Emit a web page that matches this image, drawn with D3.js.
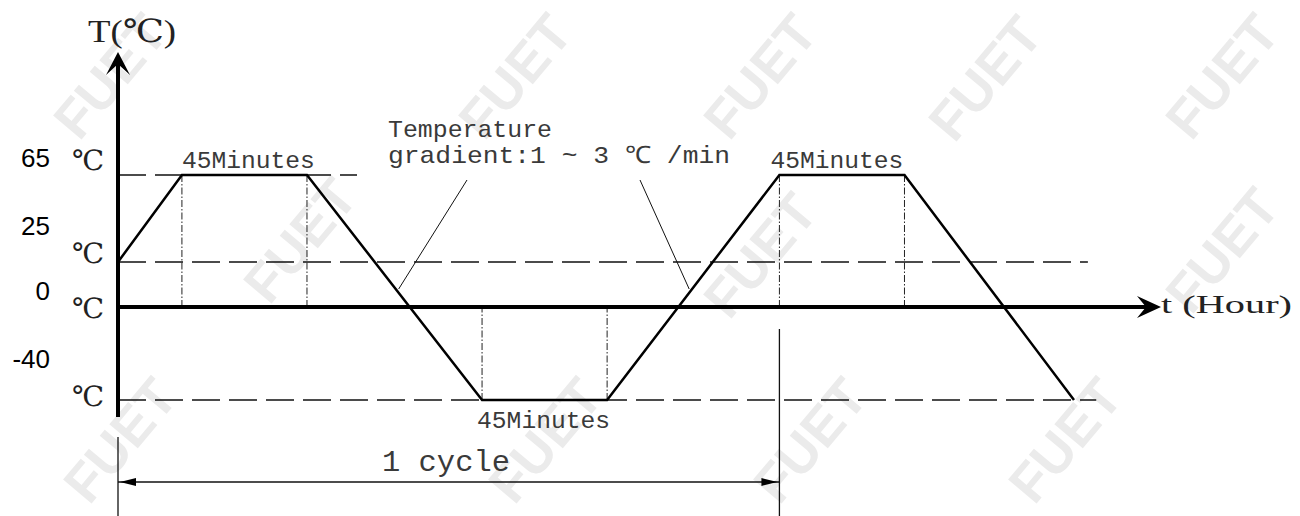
<!DOCTYPE html>
<html>
<head>
<meta charset="utf-8">
<script src="https://cdn.jsdelivr.net/npm/d3@7"></script>
<style>
  body { margin: 0; background: #fff; }
  svg { display: block; }
  .mono { font-family: "Liberation Mono", "DejaVu Sans Mono", monospace; fill: #3a3a3a; }
  .serif { font-family: "Liberation Serif", "DejaVu Serif", serif; fill: #222; }
</style>
</head>
<body>
<div id="chart"></div>
<script>
// temperature profile: time in minutes, temperature in degC
const profileTime = [0, 23, 68, 131, 176, 238, 283, 344];
const profileTemp = [25, 65, 65, -40, -40, 65, 65, -40];

// temperature levels shown on the left
const levels = [65, 25, 0, -40];
const levelLabels = ["65", "25", "0", "-40"];

// dwell (45 min) plateaus
const dwellStart = [23, 131, 238];
const dwellEnd = [68, 176, 283];
const dwellTemp = [65, -40, 65];
const dwellLabel = ["45Minutes", "45Minutes", "45Minutes"];

// dashed reference lines: temp and end time
const refTemp = [65, 25, -40];
const refEnd = [86, 349, 352];

const cycleStart = 0, cycleEnd = 238;
const cycleLabel = "1 cycle";
const gradientText = ["Temperature", "gradient:1 ~ 3 \u2103 /min"];

const width = 1300, height = 516;

const svg = d3.select("#chart").append("svg")
    .attr("width", width)
    .attr("height", height);

const x = d3.scaleLinear().domain([0, 344]).range([118, 1074]);
// drawing is not to scale, so piecewise
const y = d3.scaleLinear().domain([-40, 0, 25, 65]).range([400, 307, 262, 175]);

// watermark
const marks = [[110, 76], [515, 76], [760, 76], [985, 78], [1222, 76],
               [300, 240], [760, 255], [1222, 250],
               [120, 440], [545, 440], [810, 440], [1065, 440]];
svg.append("g").selectAll("text")
    .data(marks)
    .enter().append("text")
    .attr("transform", d => "translate(" + d[0] + "," + d[1] + ") rotate(-50)")
    .attr("text-anchor", "middle")
    .attr("dy", "0.35em")
    .style("font-family", "Liberation Sans, sans-serif")
    .style("font-weight", "bold")
    .style("font-size", "54px")
    .style("fill", "#ebebeb")
    .text("FUET");

// dashed reference lines
svg.append("g").selectAll("line")
    .data(refTemp)
    .enter().append("line")
    .attr("x1", x(0))
    .attr("x2", (d, i) => x(refEnd[i]))
    .attr("y1", d => y(d))
    .attr("y2", d => y(d))
    .attr("stroke", "#111")
    .attr("stroke-width", 1.5)
    .attr("stroke-dasharray", "28,9");

// dash-dot verticals at dwell edges
const edges = [];
dwellStart.forEach((t, i) => {
    edges.push({ t: t, temp: dwellTemp[i] });
    edges.push({ t: dwellEnd[i], temp: dwellTemp[i] });
});
svg.append("g").selectAll("line")
    .data(edges)
    .enter().append("line")
    .attr("x1", d => x(d.t))
    .attr("x2", d => x(d.t))
    .attr("y1", d => y(d.temp))
    .attr("y2", y(0))
    .attr("stroke", "#222")
    .attr("stroke-width", 1)
    .attr("stroke-dasharray", "7,2,1.5,2");

// profile line
const line = d3.line()
    .x(d => x(d[0]))
    .y(d => y(d[1]));
svg.append("path")
    .datum(profileTime.map((t, i) => [t, profileTemp[i]]))
    .attr("d", line)
    .attr("fill", "none")
    .attr("stroke", "#000")
    .attr("stroke-width", 2.5)
    .attr("stroke-linejoin", "miter");

// axes
const x0 = x(0), yZero = y(0);
svg.append("line")
    .attr("x1", x0).attr("x2", 1150)
    .attr("y1", yZero).attr("y2", yZero)
    .attr("stroke", "#000").attr("stroke-width", 4);
svg.append("path")
    .attr("d", "M1161," + yZero + " L1137," + (yZero - 11) + " L1146," + yZero + " L1137," + (yZero + 11) + " Z")
    .attr("fill", "#000");
svg.append("line")
    .attr("x1", x0).attr("x2", x0)
    .attr("y1", 417).attr("y2", 62)
    .attr("stroke", "#000").attr("stroke-width", 4);
svg.append("path")
    .attr("d", "M" + x0 + ",52 L" + (x0 - 12) + ",75 L" + x0 + ",64 L" + (x0 + 12) + ",75 Z")
    .attr("fill", "#000");

svg.append("text").attr("class", "serif")
    .attr("x", 88).attr("y", 42)
    .attr("textLength", 88).attr("lengthAdjust", "spacingAndGlyphs")
    .style("font-size", "32px")
    .text("T(\u2103)");
svg.append("text").attr("class", "serif")
    .attr("x", 1161).attr("y", 313)
    .attr("textLength", 131).attr("lengthAdjust", "spacingAndGlyphs")
    .style("font-size", "26px")
    .text("t (Hour)");

// level labels
const numBase = { 65: -8, 25: -27, 0: -7, "-40": -32 };
const degBase = { 65: -5, 25: 1, 0: 11, "-40": 6 };
svg.append("g").selectAll("text")
    .data(levels)
    .enter().append("text")
    .attr("x", 50)
    .attr("y", d => y(d) + numBase[d])
    .attr("text-anchor", "end")
    .style("font-family", "Liberation Sans, Arial, sans-serif")
    .style("font-size", "26px")
    .style("fill", "#000")
    .text((d, i) => levelLabels[i]);
svg.append("g").selectAll("text")
    .data(levels)
    .enter().append("text")
    .attr("class", "serif")
    .attr("x", 72)
    .attr("y", d => y(d) + degBase[d])
    .attr("textLength", 32).attr("lengthAdjust", "spacingAndGlyphs")
    .style("font-size", "28px")
    .text("\u2103");

// dwell labels
svg.append("g").selectAll("text")
    .data(dwellLabel)
    .enter().append("text")
    .attr("class", "mono")
    .attr("x", (d, i) => x(dwellStart[i]) - (dwellTemp[i] < 0 ? 5 : (i === 2 ? 9 : 0)))
    .attr("y", (d, i) => dwellTemp[i] < 0 ? y(dwellTemp[i]) + 28 : y(dwellTemp[i]) - 7)
    .attr("textLength", 133).attr("lengthAdjust", "spacingAndGlyphs")
    .style("font-size", "24px")
    .text(d => d);

// gradient annotation with leaders
svg.append("g").selectAll("text")
    .data(gradientText)
    .enter().append("text")
    .attr("class", "mono")
    .attr("x", 388)
    .attr("y", (d, i) => 137 + i * 26)
    .attr("textLength", (d, i) => i === 0 ? 164 : 342)
    .attr("lengthAdjust", "spacingAndGlyphs")
    .style("font-size", "24px")
    .text(d => d);

function onSeg(t0, v0, t1, v1, v) {
    const t = t0 + (v - v0) / (v1 - v0) * (t1 - t0);
    return [x(t), y(v)];
}
const leaderEnds = [onSeg(profileTime[2], profileTemp[2], profileTime[3], profileTemp[3], 10),
                    onSeg(profileTime[4], profileTemp[4], profileTime[5], profileTemp[5], 10)];
const leaderStarts = [[467, 180], [640, 180]];
svg.append("g").selectAll("line")
    .data(leaderEnds)
    .enter().append("line")
    .attr("x1", (d, i) => leaderStarts[i][0])
    .attr("y1", (d, i) => leaderStarts[i][1])
    .attr("x2", d => d[0])
    .attr("y2", d => d[1])
    .attr("stroke", "#111")
    .attr("stroke-width", 1);

// cycle dimension
const dimY = 482;
const dim = svg.append("g").attr("stroke", "#111").attr("stroke-width", 1.3);
dim.append("line").attr("x1", x(cycleStart)).attr("x2", x(cycleStart)).attr("y1", 437).attr("y2", height);
dim.append("line").attr("x1", x(cycleEnd)).attr("x2", x(cycleEnd)).attr("y1", 329).attr("y2", height);
dim.append("line").attr("x1", x(cycleStart)).attr("x2", x(cycleEnd)).attr("y1", dimY).attr("y2", dimY);
svg.append("path")
    .attr("d", "M" + (x(cycleStart) + 2) + "," + dimY + " l16,-4 l0,8 Z")
    .attr("fill", "#000");
svg.append("path")
    .attr("d", "M" + (x(cycleEnd) - 2) + "," + dimY + " l-16,-4 l0,8 Z")
    .attr("fill", "#000");
svg.append("text").attr("class", "mono")
    .attr("x", 382).attr("y", 471)
    .attr("textLength", 128).attr("lengthAdjust", "spacingAndGlyphs")
    .style("font-size", "30px")
    .text(cycleLabel);
</script>
</body>
</html>
